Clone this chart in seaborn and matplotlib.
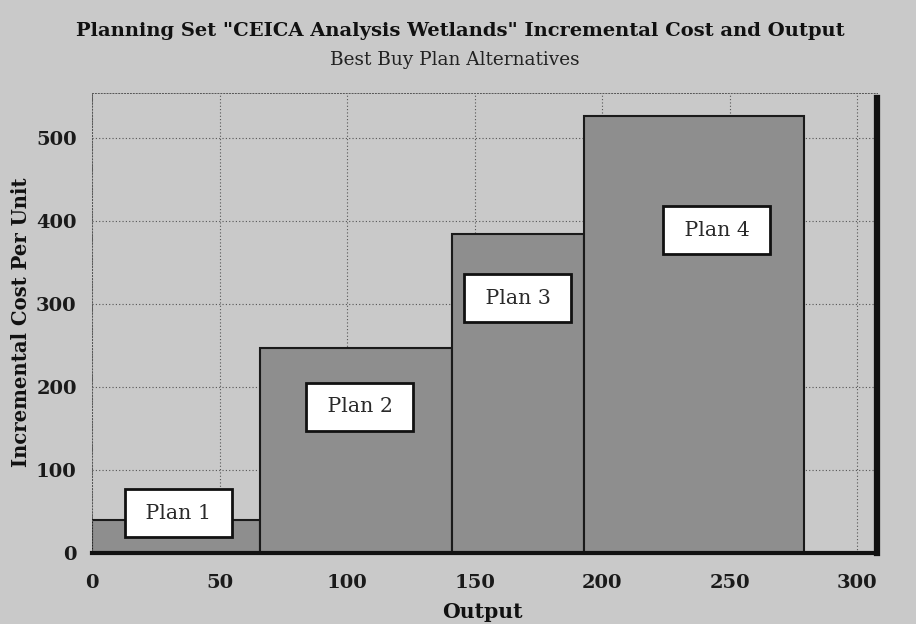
import matplotlib
matplotlib.use("Agg")
import matplotlib.pyplot as plt
import seaborn as sns
import pandas as pd

# Data
plans = ["Plan 1", "Plan 2", "Plan 3", "Plan 4"]
output_start = [0, 66, 141, 193]
output_end = [66, 141, 193, 279]
incremental_cost = [40, 247, 384, 526]
label_x = [34, 105, 167, 245]
label_y = [48, 176, 307, 389]
x_ticks = [0, 50, 100, 150, 200, 250, 300]
y_ticks = [0, 100, 200, 300, 400, 500]

title = 'Planning Set "CEICA Analysis Wetlands" Incremental Cost and Output'
subtitle = "Best Buy Plan Alternatives"
x_label = "Output"
y_label = "Incremental Cost Per Unit"

sns.set_theme(style="white")
plt.rcParams["font.family"] = ["DejaVu Serif"]

W, H = 916, 624
bg = "#c9c9c9"
bar_color = "#8e8e8e"

fig = plt.figure(figsize=(W / 100, H / 100), dpi=100, facecolor=bg)
ax_l, ax_r, ax_t, ax_b = 92, 877, 93, 553
ax = fig.add_axes([ax_l / W, 1 - ax_b / H, (ax_r - ax_l) / W, (ax_b - ax_t) / H])
ax.set_facecolor(bg)

df = pd.DataFrame({
    "plan": plans,
    "mid": [(a + b) / 2 for a, b in zip(output_start, output_end)],
    "cost": incremental_cost,
})
edges = [output_start[0]] + output_end
sns.histplot(data=df, x="mid", weights="cost", bins=edges, stat="count",
             element="bars", fill=True, color=bar_color, alpha=1.0,
             edgecolor="#1a1a1a", linewidth=1.5, ax=ax, zorder=2)

ax.set_xlim(0, 307.8)
ax.set_ylim(0, 554)
ax.set_xticks(x_ticks)
ax.set_yticks(y_ticks)
ax.grid(True, color="#555555", linestyle=(0, (1, 2)), linewidth=0.8, zorder=0)
ax.set_axisbelow(True)

for lab in ax.get_xticklabels() + ax.get_yticklabels():
    lab.set_fontweight("bold")
    lab.set_fontsize(14)
    lab.set_color("#1a1a1a")
ax.tick_params(axis="x", length=0, pad=15)
ax.tick_params(axis="y", length=0, pad=11)

for s in ["left", "top"]:
    ax.spines[s].set_color("#555555")
    ax.spines[s].set_linewidth(0.7)
    ax.spines[s].set_linestyle((0, (1, 2)))
ax.spines["right"].set_color("#111111")
ax.spines["right"].set_linewidth(4.5)
ax.spines["right"].set_bounds(0, 548)
ax.spines["bottom"].set_color("#111111")
ax.spines["bottom"].set_linewidth(3)
ax.set_xlabel("")
ax.set_ylabel("")


def fit(t, target, vertical=False):
    fig.canvas.draw()
    r = fig.canvas.get_renderer()
    bb = t.get_window_extent(r)
    cur = bb.height if vertical else bb.width
    t.set_fontsize(t.get_fontsize() * target / cur)


t_title = fig.text(460 / W, 1 - 31 / H, title, ha="center", va="center",
                   fontsize=15, fontweight="semibold", color="#111111")
fit(t_title, 771)
t_sub = fig.text(455 / W, 1 - 60 / H, subtitle, ha="center", va="center",
                 fontsize=11, fontweight="normal", color="#222222")
fit(t_sub, 249)
t_y = fig.text(21 / W, 1 - 322 / H, y_label, ha="center", va="center",
               rotation=90, fontsize=13, fontweight="bold", color="#111111")
fit(t_y, 289, vertical=True)
t_x = fig.text(482 / W, 1 - 612 / H, x_label, ha="center", va="center",
               fontsize=13, fontweight="bold", color="#111111")
fit(t_x, 80)

# plan label size
probe = fig.text(0.5, 0.5, "Plan 4", fontsize=12)
fit(probe, 65)
plan_fs = probe.get_fontsize()
probe.remove()

for p, xx, yy in zip(plans, label_x, label_y):
    ax.text(xx, yy, " " + p + " ", ha="center", va="center",
            fontsize=plan_fs, color="#2a2a2a", zorder=5,
            bbox=dict(boxstyle="square,pad=0.7", facecolor="white",
                      edgecolor="#111111", linewidth=2))

fig.savefig("out.png", dpi=100, facecolor=bg)
